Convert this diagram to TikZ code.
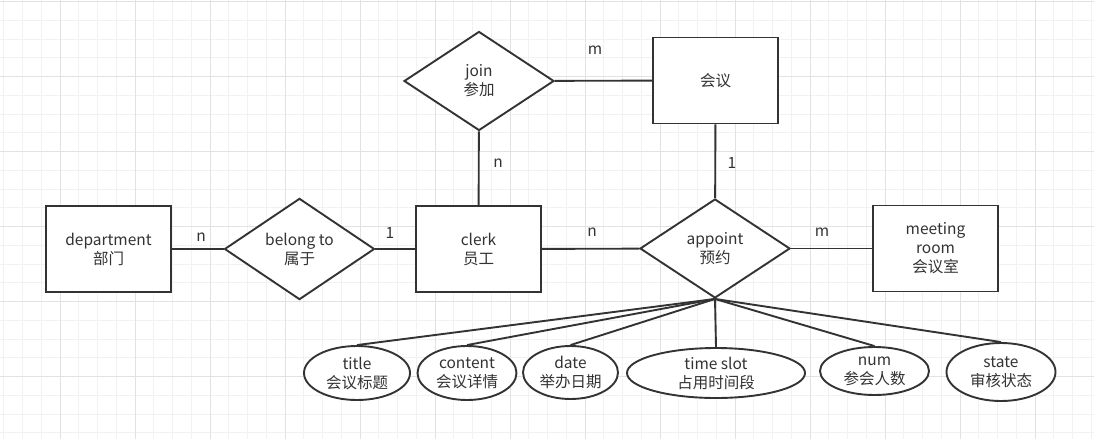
\documentclass[tikz,border=0pt]{standalone}
\usepackage{fontspec}
\setmainfont{Noto Sans CJK SC}
\usetikzlibrary{shapes.geometric}
\definecolor{ink}{HTML}{333333}
\definecolor{gridminor}{HTML}{F2F2F2}
\definecolor{gridmajor}{HTML}{E2E2E2}
\tikzset{
  entity/.style={draw=ink, line width=1.9pt, minimum width=125pt, minimum height=86pt, inner sep=0pt, align=center},
  relation/.style={draw=ink, line width=1.9pt, diamond, minimum width=150pt, minimum height=99pt, inner sep=0pt, align=center},
  attr/.style={draw=ink, line width=1.9pt, ellipse, inner sep=0pt, align=center},
  card/.style={inner sep=1pt},
  link/.style={draw=ink, line width=1.9pt},
}
\begin{document}
\begin{tikzpicture}[x=1pt,y=-1pt,font=\fontsize{15.5}{19}\selectfont,text=ink]
  \useasboundingbox (0,0) rectangle (1094,439);
  %background grid
  \foreach \gx in {0,...,58} \draw[gridminor,line width=1pt] ({3.75+18.75*\gx},0) -- ++(0,439);
  \foreach \gy in {0,...,23} \draw[gridminor,line width=1pt] (0,{1.5+18.75*\gy}) -- ++(1094,0);
  \foreach \gx in {0,...,13} \draw[gridmajor,line width=1pt] ({60+75*\gx},0) -- ++(0,439);
  \foreach \gy in {0,...,5} \draw[gridmajor,line width=1pt] (0,{1.5+75*\gy}) -- ++(1094,0);
  %entities
  \node[entity,fill=white] (department) at (108.5,249) {department\\部门};
  \node[entity,fill=white] (clerk) at (478.5,249) {clerk\\员工};
  \node[entity,fill=white] (meeting) at (715.5,80.5) {会议};
  \node[entity,fill=white] (room) at (935.5,248.5) {meeting\\room\\会议室};
  %relations
  \node[relation,fill=white] (belong) at (299.5,249) {belong to\\属于};
  \node[relation,fill=white] (join) at (479,81) {join\\参加};
  \node[relation,fill=white] (appoint) at (715,248.5) {appoint\\预约};
  %attributes of appoint
  \node[attr,fill=white,minimum width=106pt,minimum height=54pt] (title) at (357,373) {title\\会议标题};
  \node[attr,fill=white,minimum width=99pt,minimum height=54pt] (content) at (467,373) {content\\会议详情};
  \node[attr,fill=white,minimum width=95pt,minimum height=53pt] (date) at (570.5,372.5) {date\\举办日期};
  \node[attr,fill=white,minimum width=178pt,minimum height=50pt] (slot) at (716,373) {time slot\\占用时间段};
  \node[attr,fill=white,minimum width=109pt,minimum height=48pt] (num) at (874.5,371) {num\\参会人数};
  \node[attr,fill=white,minimum width=109pt,minimum height=58pt] (state) at (1001,372) {state\\审核状态};
  %connections
  \draw[link] (department) -- (belong);
  \draw[link] (belong) -- (clerk);
  \draw[link] (clerk) -- (appoint);
  \draw[link] (appoint) -- (room);
  \draw[link] (join) -- (meeting);
  \draw[link] (join) -- (clerk);
  \draw[link] (meeting) -- (appoint);
  \foreach \a in {title,content,date,slot,num,state}
    \draw[link] (appoint.south) -- (\a.north);
  %cardinalities
  \node[card] (c1) at (201,237) {n};
  \node[card] (c2) at (390,233) {1};
  \node[card] (c3) at (592,232) {n};
  \node[card] (c4) at (822,232) {m};
  \node[card] (c5) at (595,50) {m};
  \node[card] (c6) at (498,163) {n};
  \node[card] (c7) at (732,163) {1};
\end{tikzpicture}
\end{document}
